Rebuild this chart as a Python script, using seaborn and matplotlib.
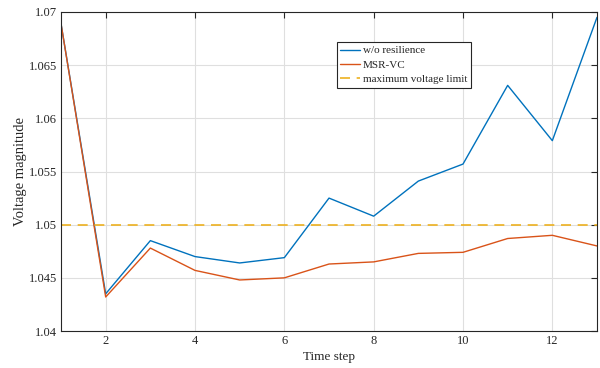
import numpy as np
import pandas as pd
import matplotlib
matplotlib.use("Agg")
import matplotlib.pyplot as plt
import seaborn as sns
from matplotlib.lines import Line2D

time_steps = [1, 2, 3, 4, 5, 6, 7, 8, 9, 10, 11, 12, 13]
wo_resilience = [1.0689, 1.0435, 1.0485, 1.0470, 1.0464, 1.0469, 1.0525, 1.0508,
                 1.0541, 1.0557, 1.0631, 1.0579, 1.0695]
msr_vc = [1.0689, 1.0432, 1.0478, 1.0457, 1.0448, 1.0450, 1.0463, 1.0465,
          1.0473, 1.0474, 1.0487, 1.0490, 1.0480]
voltage_limit = 1.05
series_names = ["w/o resilience", "MSR-VC", "maximum voltage limit"]
xticks = [2, 4, 6, 8, 10, 12]
yticks = [1.04, 1.045, 1.05, 1.055, 1.06, 1.065, 1.07]
ytick_labels = ["1.04", "1.045", "1.05", "1.055", "1.06", "1.065", "1.07"]

sns.set_theme(style="white")
plt.rcParams["font.family"] = ["Liberation Serif", "DejaVu Serif"]

df = pd.DataFrame({
    "Time step": time_steps * 2,
    "Voltage magnitude": wo_resilience + msr_vc,
    "series": [series_names[0]] * len(time_steps) + [series_names[1]] * len(time_steps),
})

fig = plt.figure(figsize=(6, 3.68), dpi=100)
ax = fig.add_axes([0.1017, 0.1005, 0.8933, 0.8669])

palette = {series_names[0]: "#0072BD", series_names[1]: "#D95319"}
sns.lineplot(data=df, x="Time step", y="Voltage magnitude", hue="series",
             palette=palette, linewidth=1.0, ax=ax, legend=False)
ax.plot([time_steps[0], time_steps[-1]], [voltage_limit, voltage_limit],
        linestyle=(0, (6, 4)), color="#EDB120", linewidth=1.2)

ax.set_xlim(time_steps[0], time_steps[-1])
ax.set_ylim(yticks[0], yticks[-1])
ax.set_xticks(xticks)
ax.set_xticklabels([str(t) for t in xticks])
ax.set_yticks(yticks)
ax.set_yticklabels(ytick_labels)
ax.grid(True, color="#DFDFDF", linewidth=0.8)
ax.tick_params(direction="in", length=4, width=0.8, top=True, right=True,
               labelsize=9, colors="#262626", pad=3)
for s in ax.spines.values():
    s.set_color("#262626")
    s.set_linewidth(0.8)
ax.set_xlabel("Time step", fontsize=9.5, color="#262626", labelpad=3)
ax.set_ylabel("Voltage magnitude", fontsize=10.5, color="#262626", labelpad=1)

handles = [Line2D([], [], color="#0072BD", linewidth=1.0),
           Line2D([], [], color="#D95319", linewidth=1.0),
           Line2D([], [], color="#EDB120", linewidth=1.2, linestyle=(0, (6, 4)))]
leg = ax.legend(handles, series_names, loc="upper left", bbox_to_anchor=(0.515, 0.905),
                fontsize=8, frameon=True, fancybox=False, framealpha=1,
                edgecolor="#262626", handlelength=1.8, handletextpad=0.25,
                borderpad=0.3, labelspacing=0.42, borderaxespad=0)
leg.get_frame().set_linewidth(0.8)

fig.savefig("out.png", dpi=100)
